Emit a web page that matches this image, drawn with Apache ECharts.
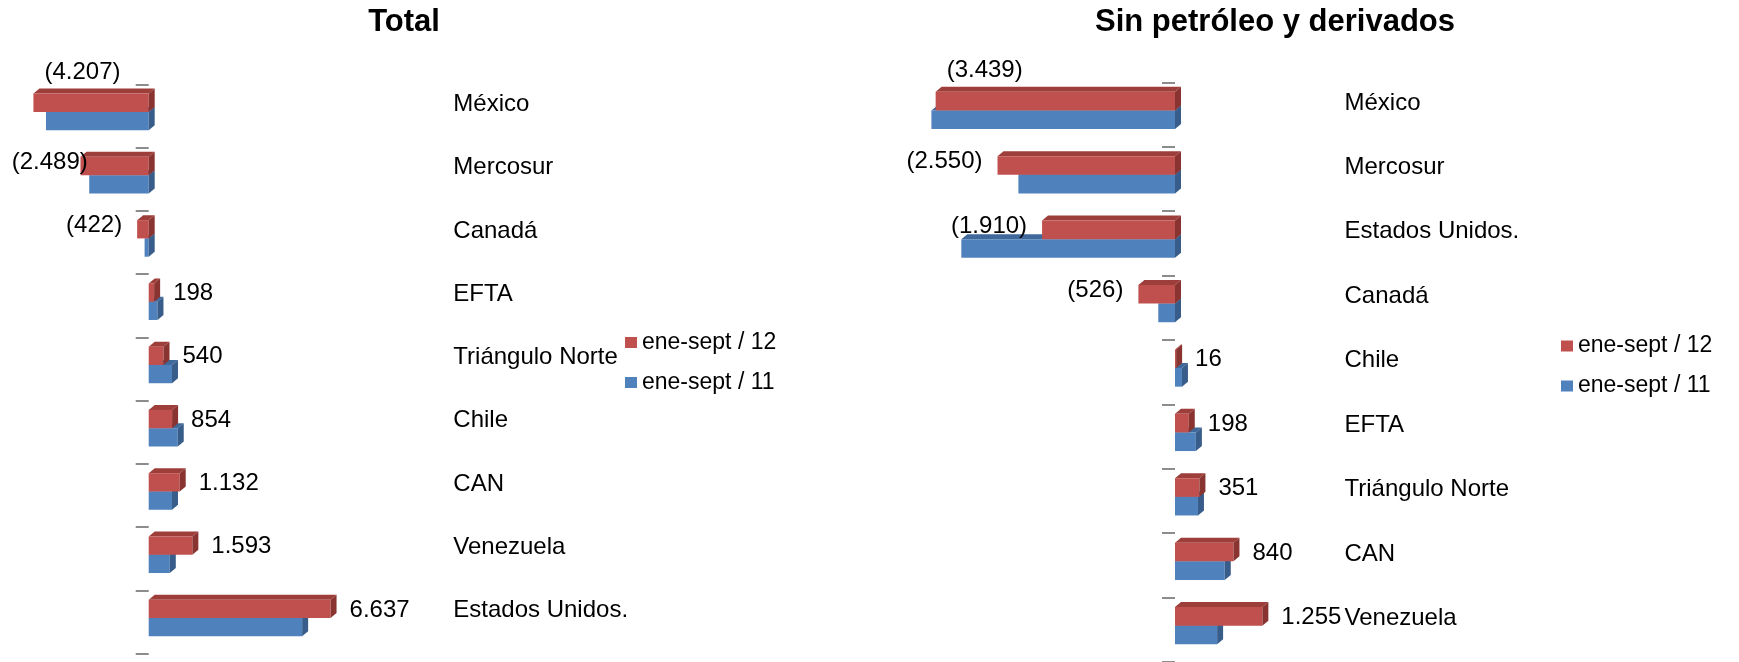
<!DOCTYPE html>
<html><head><meta charset="utf-8">
<script src="https://cdn.jsdelivr.net/npm/echarts@6/dist/echarts.min.js"></script>
<style>html,body{margin:0;padding:0;background:#fff}#c{width:1739px;height:662px}</style>
</head><body><div id="c"></div>
<script>
// ---- data ----
const categoriesTotal = ['México','Mercosur','Canadá','EFTA','Triángulo Norte','Chile','CAN','Venezuela','Estados Unidos.'];
const total12 = [-4207,-2489,-422,198,540,854,1132,1593,6637];
const total11 = [-3750,-2170,-150,320,850,1060,850,770,5600];
const categoriesSin = ['México','Mercosur','Estados Unidos.','Canadá','Chile','EFTA','Triángulo Norte','CAN','Venezuela'];
const sin12 = [-3439,-2550,-1910,-526,16,198,351,840,1255];
const sin11 = [-3500,-2250,-3070,-240,100,300,330,715,605];
const seriesNames = ['ene-sept / 12','ene-sept / 11'];
const titles = ['Total','Sin petróleo y derivados'];

// ---- style ----
const FONT = '"Liberation Sans", Arial, sans-serif';
const RED = {front:'#C0504D', top:'#9E3E3B', side:'#8A3431'};
const BLUE = {front:'#4F81BD', top:'#3F689B', side:'#385D8A'};
const DX = 6, DY = 5, LABEL_FS = 24;

const mctx = document.createElement('canvas').getContext('2d');
function textWidth(t){ mctx.font = LABEL_FS + 'px ' + FONT; return mctx.measureText(t).width; }
function fmt(v){
  const s = Math.abs(v).toString().replace(/\B(?=(\d{3})+(?!\d))/g,'.');
  return v < 0 ? '(' + s + ')' : s;
}

function makeRender(colors, isFront, withLabels){
  return function(params, api){
    const v = api.value(0), i = api.value(1);
    const p0 = api.coord([0, i]), p1 = api.coord([v, i]);
    const band = api.size([0, 1])[1];
    const c = p0[1];
    const h = 0.289 * band;
    const boundary = c - 0.064 * band;
    const yt = isFront ? boundary - h : boundary;
    const yb = yt + h;
    const xl = Math.min(p0[0], p1[0]), xr = Math.max(p0[0], p1[0]);
    const children = [
      {type:'polygon', shape:{points:[[xl,yt],[xr,yt],[xr+DX,yt-DY],[xl+DX,yt-DY]]}, style:{fill:colors.top}},
      {type:'rect', shape:{x:xl, y:yt, width:xr-xl, height:h}, style:{fill:colors.front}},
      {type:'polygon', shape:{points:[[xr,yt],[xr+DX,yt-DY],[xr+DX,yb-DY],[xr,yb]]}, style:{fill:colors.side}}
    ];
    if (withLabels) {
      const txt = fmt(v);
      const w = textWidth(txt);
      const cs = params.coordSys;
      let lx, ly, align = 'left';
      const mid = yt + h / 2;
      if (v >= 0) {
        lx = xr + DX + 13; ly = mid + 1;
      } else {
        let left = Math.max(cs.x, xl - 15 - w);
        if (left + w > xl + 20) {
          lx = Math.max(cs.x, xl + 11); ly = yt - 21;
        } else {
          lx = left; ly = mid - 4;
        }
      }
      children.push({type:'text', style:{text:txt, x:lx, y:ly, fill:'#000',
        font: LABEL_FS + 'px ' + FONT, align:align, verticalAlign:'middle',
        textAlign:align, textVerticalAlign:'middle'}});
    }
    return {type:'group', children};
  };
}

function yAxisCfg(gridIndex, cats, margin){
  return {type:'category', gridIndex, data:cats, inverse:true,
    axisLine:{show:false, onZero:true},
    axisTick:{show:true, inside:false, length:13, lineStyle:{color:'#8c8c8c', width:2}},
    axisLabel:{inside:true, margin, interval:0, fontSize:24, fontFamily:FONT, color:'#000',
      verticalAlign:'bottom', lineHeight:23},
    splitLine:{show:false}};
}

function seriesPair(axisIdx, v12, v11){
  return [
    {type:'custom', name:seriesNames[1], xAxisIndex:axisIdx, yAxisIndex:axisIdx,
     data:v11.map((v,i)=>[v,i]), encode:{x:0, y:1}, itemStyle:{color:BLUE.front},
     renderItem:makeRender(BLUE, false, false), z:2, silent:true},
    {type:'custom', name:seriesNames[0], xAxisIndex:axisIdx, yAxisIndex:axisIdx,
     data:v12.map((v,i)=>[v,i]), encode:{x:0, y:1}, itemStyle:{color:RED.front},
     renderItem:makeRender(RED, true, true), z:3, silent:true}
  ];
}

const legendCfg = (left, top) => ({data:seriesNames, orient:'vertical', left, top, icon:'rect',
  itemWidth:12, itemHeight:11, itemGap:17, padding:0, selectedMode:false,
  textStyle:{fontSize:23, fontFamily:FONT, color:'#000', lineHeight:23}});

const chart = echarts.init(document.getElementById('c'), null, {renderer:'canvas'});
chart.setOption({
  animation:false,
  backgroundColor:'#fff',
  title:[
    {text:titles[0], left:404, top:7, textAlign:'center', padding:0,
     textStyle:{fontSize:31, fontWeight:'bold', fontFamily:FONT, color:'#000'}},
    {text:titles[1], left:1275, top:7, textAlign:'center', padding:0,
     textStyle:{fontSize:31, fontWeight:'bold', fontFamily:FONT, color:'#000'}}
  ],
  legend:[legendCfg(625, 331), legendCfg(1561, 334.5)],
  grid:[
    {left:11.7, top:84.3, width:411, height:569.4},
    {left:896.6, top:82.3, width:556.8, height:582.5}
  ],
  xAxis:[
    {type:'value', gridIndex:0, min:-5000, max:10000, show:false},
    {type:'value', gridIndex:1, min:-4000, max:4000, show:false}
  ],
  yAxis:[yAxisCfg(0, categoriesTotal, 441.6), yAxisCfg(1, categoriesSin, 447.9)],
  series:[...seriesPair(0, total12, total11), ...seriesPair(1, sin12, sin11)]
});
</script></body></html>
